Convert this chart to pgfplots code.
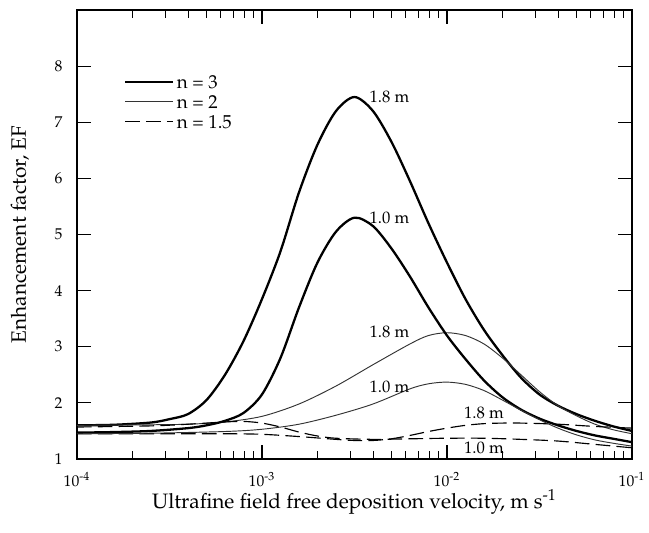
\documentclass[border=0pt]{standalone}
\usepackage[T1]{fontenc}
\usepackage{mathpazo}
\usepackage{pgfplots}
\pgfplotsset{compat=1.18}
\begin{document}
\begin{tikzpicture}
\begin{axis}[
  scale only axis,
  width=266.4pt, height=215.52pt,
  xmode=log,
  xmin=1e-4, xmax=1e-1,
  ymin=1, ymax=9,
  ytick={1,2,3,4,5,6,7,8},
  xtick={1e-4,1e-3,1e-2,1e-1},
  xticklabels={10\textsuperscript{-4},10\textsuperscript{-3},10\textsuperscript{-2},10\textsuperscript{-1}},
  yticklabel style={font=\fontsize{7.5}{9}\selectfont, xshift=-3.5pt},
  xticklabel style={font=\fontsize{7.5}{9}\selectfont, yshift=-3pt},
  tick align=inside,
  major tick length=6.5pt,
  minor tick length=4pt,
  axis line style={line width=0.55pt},
  every tick/.style={black, line width=0.5pt},
  xlabel={Ultrafine field free deposition velocity, m s\textsuperscript{-1}},
  ylabel={Enhancement factor, EF},
  xlabel style={at={(axis description cs:0.5,-0.0957)}, anchor=center},
  ylabel style={at={(axis description cs:-0.1027,0.5)}, anchor=center},
  legend cell align=left,
  legend style={draw=none, fill=none, at={(axis description cs:0,1)}, anchor=north west,
    xshift=19.4pt, yshift=-27.4pt, row sep=0pt, font=\small,
    nodes={inner sep=1.2pt, text height=6.9pt, text depth=0.3pt}},
  legend image code/.code={\draw[#1] (0pt,0pt) -- (23pt,0pt);},
]
% n = 3, 1.8 m
\addplot[black, line width=1.1pt, smooth] coordinates {
(1e-4,1.60) (1.585e-4,1.61) (2.512e-4,1.65) (3.162e-4,1.71) (3.981e-4,1.80)
(5.012e-4,2.05) (6.310e-4,2.50) (7.943e-4,3.10) (1e-3,3.85) (1.259e-3,4.70)
(1.585e-3,5.75) (1.995e-3,6.60) (2.512e-3,7.20) (3.162e-3,7.45) (3.981e-3,7.20)
(5.012e-3,6.65) (6.310e-3,5.95) (7.943e-3,5.20) (1e-2,4.50) (1.259e-2,3.85)
(1.585e-2,3.30) (1.995e-2,2.85) (2.512e-2,2.45) (3.162e-2,2.15) (3.981e-2,1.95)
(5.012e-2,1.80) (6.310e-2,1.68) (7.943e-2,1.58) (1e-1,1.50)};
\addlegendentry{n = 3}
% n = 2, 1.8 m
\addplot[black!80, line width=0.45pt, smooth] coordinates {
(1e-4,1.60) (2.512e-4,1.61) (3.981e-4,1.62) (6.310e-4,1.66) (1e-3,1.76)
(1.585e-3,1.98) (2.512e-3,2.30) (3.981e-3,2.68) (6.310e-3,3.05) (7.943e-3,3.20)
(1e-2,3.25) (1.259e-2,3.20) (1.585e-2,3.05) (1.995e-2,2.80) (2.512e-2,2.50)
(3.162e-2,2.20) (3.981e-2,1.95) (5.012e-2,1.77) (6.310e-2,1.62) (7.943e-2,1.52)
(1e-1,1.45)};
\addlegendentry{n = 2}
% n = 1.5, 1.8 m
\addplot[black, line width=0.55pt, dash pattern=on 7pt off 3pt, smooth] coordinates {
(1e-4,1.45) (2.512e-4,1.45) (6.310e-4,1.45) (1e-3,1.44) (1.585e-3,1.40)
(2.512e-3,1.35) (3.162e-3,1.33) (3.981e-3,1.33) (5.012e-3,1.36) (6.310e-3,1.42)
(7.943e-3,1.49) (1e-2,1.55) (1.259e-2,1.60) (1.585e-2,1.63) (1.995e-2,1.64)
(2.512e-2,1.64) (3.981e-2,1.62) (6.310e-2,1.58) (1e-1,1.55)};
\addlegendentry{n = 1.5}
% n = 3, 1.0 m
\addplot[black, line width=1.1pt, smooth, forget plot] coordinates {
(1e-4,1.47) (1.585e-4,1.48) (2.512e-4,1.50) (3.981e-4,1.55) (5.012e-4,1.60)
(6.310e-4,1.68) (7.943e-4,1.82) (1e-3,2.15) (1.259e-3,2.80) (1.585e-3,3.70)
(1.995e-3,4.50) (2.512e-3,5.05) (3.162e-3,5.30) (3.981e-3,5.15) (5.012e-3,4.75)
(6.310e-3,4.25) (7.943e-3,3.70) (1e-2,3.20) (1.259e-2,2.78) (1.585e-2,2.40)
(1.995e-2,2.10) (2.512e-2,1.88) (3.162e-2,1.72) (3.981e-2,1.60) (5.012e-2,1.50)
(6.310e-2,1.42) (7.943e-2,1.36) (1e-1,1.30)};
% n = 2, 1.0 m
\addplot[black!80, line width=0.45pt, smooth, forget plot] coordinates {
(1e-4,1.45) (2.512e-4,1.46) (6.310e-4,1.49) (1e-3,1.53) (1.585e-3,1.62)
(2.512e-3,1.78) (3.981e-3,1.98) (6.310e-3,2.25) (7.943e-3,2.34) (1e-2,2.37)
(1.259e-2,2.33) (1.585e-2,2.22) (1.995e-2,2.05) (2.512e-2,1.87) (3.162e-2,1.70)
(3.981e-2,1.55) (5.012e-2,1.43) (6.310e-2,1.34) (7.943e-2,1.28) (1e-1,1.23)};
% n = 1.5, 1.0 m
\addplot[black, line width=0.55pt, dash pattern=on 7pt off 3pt, smooth, forget plot] coordinates {
(1e-4,1.57) (2.512e-4,1.59) (3.981e-4,1.62) (6.310e-4,1.66) (7.943e-4,1.67)
(1e-3,1.64) (1.259e-3,1.57) (1.585e-3,1.48) (1.995e-3,1.41) (2.512e-3,1.37)
(3.981e-3,1.35) (6.310e-3,1.36) (1e-2,1.37) (1.585e-2,1.37) (2.512e-2,1.35)
(3.981e-2,1.32) (6.310e-2,1.26) (1e-1,1.20)};
% curve labels
\node[anchor=west, inner sep=1pt, font=\footnotesize] at (axis cs:3.7e-3,7.45) {1.8 m};
\node[anchor=west, inner sep=1pt, font=\footnotesize] at (axis cs:3.7e-3,5.30) {1.0 m};
\node[anchor=west, inner sep=1pt, font=\footnotesize] at (axis cs:3.7e-3,3.27) {1.8 m};
\node[anchor=west, inner sep=1pt, font=\footnotesize] at (axis cs:3.7e-3,2.28) {1.0 m};
\node[anchor=west, inner sep=1pt, font=\footnotesize] at (axis cs:1.2e-2,1.82) {1.8 m};
\node[anchor=west, inner sep=1pt, font=\footnotesize] at (axis cs:1.2e-2,1.20) {1.0 m};
\end{axis}
\pgfresetboundingbox
\path (-36.96pt,-35.04pt) rectangle (274.56pt,220.32pt);
\end{tikzpicture}
\end{document}
